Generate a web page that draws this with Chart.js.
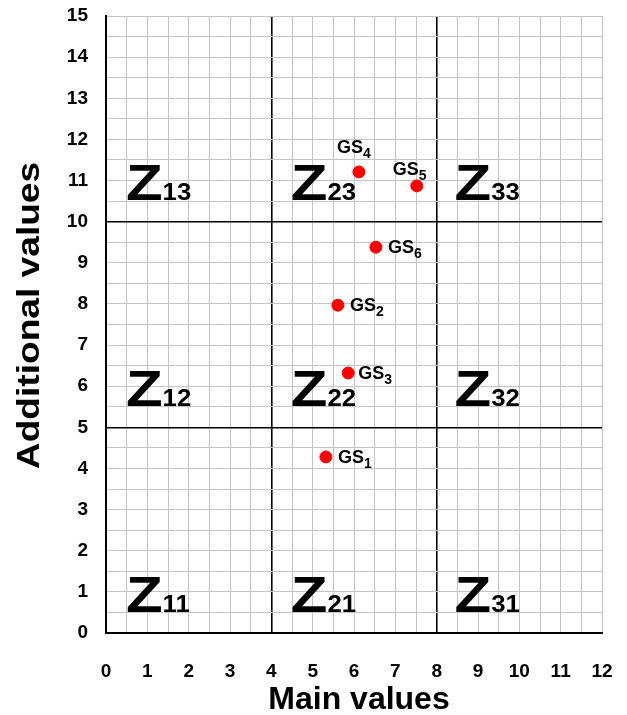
<!DOCTYPE html>
<html>
<head>
<meta charset="utf-8">
<script src="https://cdn.jsdelivr.net/npm/chart.js@4.4.1/dist/chart.umd.min.js"></script>
<style>
html,body{margin:0;padding:0;background:#fff;}
#wrap{width:627px;height:715px;position:relative;}
</style>
</head>
<body>
<div id="wrap"><canvas id="c" width="627" height="715"></canvas></div>
<script>
// ---- data ----
const pointNames = ['1','2','3','4','5','6'];
const mainValues = [5.32, 5.61, 5.86, 6.12, 7.52, 6.53];
const additionalValues = [4.28, 7.97, 6.32, 11.21, 10.87, 9.38];
const zoneNames = ['11','21','31','12','22','32','13','23','33'];
const zoneX = [0.53, 4.52, 8.48, 0.53, 4.52, 8.48, 0.53, 4.52, 8.48];
const zoneY = [0.52, 0.52, 0.52, 5.53, 5.53, 5.53, 10.53, 10.53, 10.53];
const xTickValues = [0,1,2,3,4,5,6,7,8,9,10,11,12];
const yTickValues = [0,1,2,3,4,5,6,7,8,9,10,11,12,13,14,15];
const xBoundaries = [4, 8];
const yBoundaries = [5, 10];
const xTitle = 'Main values';
const yTitle = 'Additional values';

// label placement (pixel offsets from point: dx, baseline dy)
const labelOffsets = [[12,6],[12,6],[10,6],[-22,-19],[-24,-11],[12,6]];

const FONT = 'Arial, "Liberation Sans", sans-serif';

function stretched(ctx, text, x, y, sx) {
  const w = ctx.measureText(text).width * sx;
  ctx.save();
  ctx.translate(x, y);
  ctx.scale(sx, 1);
  ctx.fillText(text, 0, 0);
  ctx.restore();
  return w;
}

function zeroPad(s) {
  s.paddingTop = 0; s.paddingBottom = 0; s.paddingLeft = 0; s.paddingRight = 0;
}

const labelPlugin = {
  id: 'labels',
  afterDraw(chart) {
    const ctx = chart.ctx;
    const xs = chart.scales.x, ys = chart.scales.y;
    const area = chart.chartArea;
    ctx.save();
    ctx.fillStyle = '#000';
    ctx.textBaseline = 'alphabetic';
    ctx.textAlign = 'left';
    // zone labels
    for (let i = 0; i < zoneNames.length; i++) {
      const px = xs.getPixelForValue(zoneX[i]);
      const py = ys.getPixelForValue(zoneY[i]);
      ctx.font = 'bold 50px ' + FONT;
      const w = stretched(ctx, 'Z', px - 2, py, 1.2);
      ctx.font = 'bold 23px ' + FONT;
      stretched(ctx, zoneNames[i], px - 2 + w, py, 1.12);
    }
    // point labels
    const meta = chart.getDatasetMeta(0);
    meta.data.forEach((el, i) => {
      const px = el.x + labelOffsets[i][0];
      const py = el.y + labelOffsets[i][1];
      ctx.font = 'bold 18px ' + FONT;
      ctx.fillText('GS', px, py);
      const w = ctx.measureText('GS').width;
      ctx.font = 'bold 14px ' + FONT;
      ctx.fillText(pointNames[i], px + w, py + 5);
    });
    // axis titles
    ctx.font = 'bold 32px ' + FONT;
    ctx.textAlign = 'center';
    ctx.fillText(xTitle, (area.left + area.right) / 2 + 5, 709);
    ctx.save();
    ctx.translate(39, (area.top + area.bottom) / 2 - 9);
    ctx.rotate(-Math.PI / 2);
    ctx.scale(1.16, 1);
    ctx.fillText(yTitle, 0, 0);
    ctx.restore();
    ctx.restore();
  }
};

const points = mainValues.map((v, i) => ({x: v, y: additionalValues[i]}));

new Chart(document.getElementById('c'), {
  type: 'scatter',
  data: {
    datasets: [{
      data: points,
      backgroundColor: '#ff0000',
      borderColor: '#ff0000',
      pointRadius: 6,
      pointHoverRadius: 6
    }]
  },
  options: {
    responsive: false,
    animation: false,
    devicePixelRatio: 1,
    layout: {padding: {top: 16, right: 25, left: 0, bottom: 0}},
    plugins: {legend: {display: false}, tooltip: {enabled: false}},
    scales: {
      x: {
        type: 'linear', min: 0, max: 12,
        afterBuildTicks(s) { s.ticks = []; for (let v = 0; v <= 12.0001; v += 0.5) s.ticks.push({value: v}); },
        afterFit(s) { s.height = 82; zeroPad(s); },
        ticks: {
          color: '#000', font: {family: FONT, size: 19, weight: 'bold'}, padding: 27,
          autoSkip: false, maxRotation: 0,
          callback: (v) => xTickValues.includes(v) ? String(v) : ''
        },
        grid: {
          drawTicks: false,
          color: (c) => xBoundaries.includes(c.tick.value) ? '#000' : '#c4c4c4',
          lineWidth: (c) => xBoundaries.includes(c.tick.value) ? 1.6 : 1
        },
        border: {color: '#000', width: 2},
        title: {display: false}
      },
      y: {
        type: 'linear', min: 0, max: 15,
        afterBuildTicks(s) { s.ticks = []; for (let v = 0; v <= 15.0001; v += 0.5) s.ticks.push({value: v}); },
        afterFit(s) { s.width = 106; zeroPad(s); },
        ticks: {
          color: '#000', font: {family: FONT, size: 19, weight: 'bold'}, padding: 18,
          autoSkip: false,
          callback: (v) => yTickValues.includes(v) ? String(v) : ''
        },
        grid: {
          drawTicks: false,
          color: (c) => yBoundaries.includes(c.tick.value) ? '#000' : '#c4c4c4',
          lineWidth: (c) => yBoundaries.includes(c.tick.value) ? 1.6 : 1
        },
        border: {color: '#000', width: 2},
        title: {display: false}
      }
    }
  },
  plugins: [labelPlugin]
});
</script>
</body>
</html>
